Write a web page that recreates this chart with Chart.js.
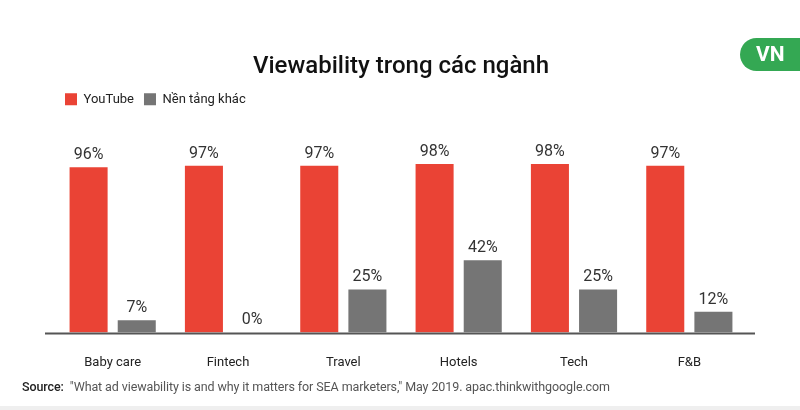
<!DOCTYPE html>
<html lang="vi">
<head>
  <meta charset="UTF-8">
  <title>Viewability trong các ngành</title>
  <script src="https://cdn.jsdelivr.net/npm/chart.js"></script>
  <style>
    html, body {
      margin: 0;
      padding: 0;
      background: #fff;
      font-family: Roboto, 'Noto Sans', sans-serif;
    }
    .wrap {
      position: relative;
      width: 800px;
      height: 410px;
      overflow: hidden;
    }
    .badge {
      position: absolute;
      left: 740px;
      top: 38px;
      width: 80px;
      height: 33px;
      background: #34a853;
      border-radius: 17px;
      color: #fff;
      font-weight: 700;
      font-size: 21px;
      line-height: 33px;
      padding-left: 16px;
      box-sizing: border-box;
    }
    .source {
      position: absolute;
      left: 22px;
      top: 379px;
      font-size: 12.5px;
      color: #555;
      letter-spacing: -0.1px;
      white-space: nowrap;
    }
    .source b {
      color: #222;
      font-weight: 500;
    }
    .foot {
      position: absolute;
      left: 0;
      bottom: 0;
      width: 800px;
      height: 4px;
      background: #efefef;
    }
  </style>
</head>
<body>
  <div class="wrap">
    <canvas id="chart" width="800" height="410"></canvas>
    <div class="badge">VN</div>
    <div class="source"><b>Source:</b>&nbsp; "What ad viewability is and why it matters for SEA marketers," May 2019. apac.thinkwithgoogle.com</div>
    <div class="foot"></div>
  </div>

  <script>
    // chart data
    const categories = ['Baby care', 'Fintech', 'Travel', 'Hotels', 'Tech', 'F&B'];
    const youtubeValues = [96, 97, 97, 98, 98, 97];
    const otherValues = [7, 0, 25, 42, 25, 12];
    const seriesNames = ['YouTube', 'Nền tảng khác'];

    // writes "xx%" above each bar
    const valueLabels = {
      id: 'valueLabels',
      afterDatasetsDraw(chart) {
        const ctx = chart.ctx;
        ctx.save();
        ctx.font = '16px Roboto, sans-serif';
        ctx.fillStyle = '#333';
        ctx.textAlign = 'center';
        ctx.textBaseline = 'bottom';
        chart.data.datasets.forEach((ds, i) => {
          chart.getDatasetMeta(i).data.forEach((bar, j) => {
            ctx.fillText(ds.data[j] + '%', bar.x, bar.y - 4);
          });
        });
        ctx.restore();
      }
    };

    // baseline a bit wider than the plot area
    const baseLine = {
      id: 'baseLine',
      afterDatasetsDraw(chart) {
        const ctx = chart.ctx;
        const y = chart.scales.y.getPixelForValue(0);
        ctx.save();
        ctx.strokeStyle = '#555';
        ctx.lineWidth = 2;
        ctx.beginPath();
        ctx.moveTo(chart.chartArea.left - 10, y + 1);
        ctx.lineTo(chart.chartArea.right + 8, y + 1);
        ctx.stroke();
        ctx.restore();
      }
    };

    new Chart(document.getElementById('chart'), {
      type: 'bar',
      data: {
        labels: categories,
        datasets: [
          {
            label: seriesNames[0],
            data: youtubeValues,
            backgroundColor: '#ea4335'
          },
          {
            label: seriesNames[1],
            data: otherValues,
            backgroundColor: '#757575'
          }
        ]
      },
      options: {
        responsive: false,
        animation: false,
        layout: {
          padding: { left: 55, right: 53, top: 0, bottom: 16 }
        },
        datasets: {
          bar: {
            categoryPercentage: 0.835,
            barPercentage: 0.79
          }
        },
        scales: {
          x: {
            grid: { display: false, drawTicks: false },
            border: { display: false },
            ticks: {
              padding: 23,
              color: '#222',
              font: { family: 'Roboto', size: 13 }
            }
          },
          y: {
            min: 0,
            max: 126,
            display: false
          }
        },
        plugins: {
          title: {
            display: true,
            text: 'Viewability trong các ngành',
            color: '#111',
            font: { family: 'Roboto', size: 24, weight: '500' },
            padding: { top: 53, bottom: 1 }
          },
          legend: {
            align: 'start',
            labels: {
              boxWidth: 12,
              boxHeight: 12,
              color: '#222',
              font: { family: 'Roboto', size: 13 },
              padding: 10
            }
          },
          tooltip: { enabled: false }
        }
      },
      plugins: [valueLabels, baseLine]
    });
  </script>
</body>
</html>
